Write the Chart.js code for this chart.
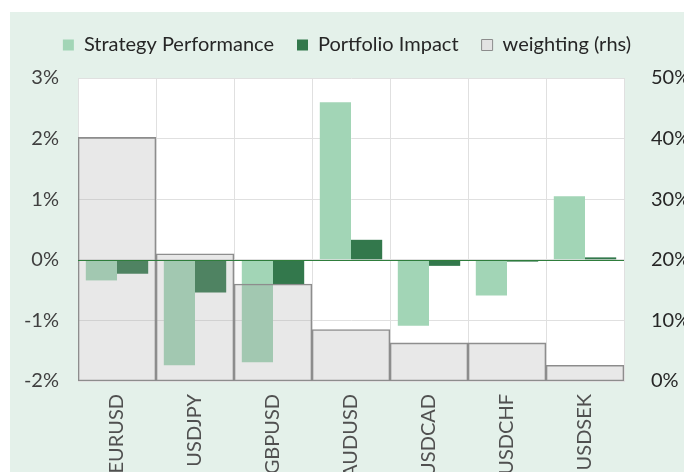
<!DOCTYPE html>
<html>
<head>
<meta charset="utf-8">
<script src="https://cdn.jsdelivr.net/npm/chart.js@4.4.1/dist/chart.umd.min.js"></script>
<style>
    body { margin: 0; background: #ffffff; overflow: hidden; }
    #wrap { position: absolute; left: 10px; top: 12px; width: 674px; height: 520px; background: #e4f1ea; }
</style>
</head>
<body>
<div id="wrap"><canvas id="myChart" width="674" height="520"></canvas></div>
<script>
// data
var pairs = ['EURUSD', 'USDJPY', 'GBPUSD', 'AUDUSD', 'USDCAD', 'USDCHF', 'USDSEK'];
var strategy = [-0.34, -1.74, -1.69, 2.60, -1.09, -0.59, 1.05];
var portfolio = [-0.23, -0.54, -0.40, 0.33, -0.10, -0.03, 0.04];
var weighting = [40.2, 21.0, 16.0, 8.5, 6.3, 6.3, 2.6];
var leftTicks = [-2, -1, 0, 1, 2, 3];
var rightTicks = [0, 10, 20, 30, 40, 50];

var tickFont = { family: 'Lato', size: 20 };

// witte plot achtergrond
var plotBg = {
    id: 'plotBg',
    beforeDraw: function (chart) {
        var a = chart.chartArea;
        chart.ctx.save();
        chart.ctx.fillStyle = '#ffffff';
        chart.ctx.fillRect(a.left, a.top, a.right - a.left, a.bottom - a.top);
        chart.ctx.restore();
    }
};

// groene nul lijn over alles heen
var zeroLine = {
    id: 'zeroLine',
    afterDatasetsDraw: function (chart) {
        var a = chart.chartArea;
        var y = Math.round(chart.scales.y.getPixelForValue(0)) + 0.5;
        var ctx = chart.ctx;
        ctx.save();
        ctx.strokeStyle = '#2f7d3c';
        ctx.lineWidth = 1;
        ctx.beginPath();
        ctx.moveTo(a.left, y);
        ctx.lineTo(a.right, y);
        ctx.stroke();
        ctx.restore();
    }
};

// legenda hoogte vast
var legendHeight = {
    id: 'legendHeight',
    beforeInit: function (chart) {
        var fit = chart.legend.fit;
        chart.legend.fit = function () {
            fit.call(this);
            this.height = 66;
        };
    }
};

var ctx = document.getElementById('myChart');
var myChart = new Chart(ctx, {
    type: 'bar',
    data: {
        labels: pairs,
        datasets: [{
            label: 'Strategy Performance',
            data: strategy,
            backgroundColor: '#a2d5b6',
            yAxisID: 'y',
            categoryPercentage: 0.8,
            barPercentage: 1
        }, {
            label: 'Portfolio Impact',
            data: portfolio,
            backgroundColor: '#33784c',
            yAxisID: 'y',
            categoryPercentage: 0.8,
            barPercentage: 1
        }, {
            label: 'weighting (rhs)',
            data: weighting,
            backgroundColor: 'rgba(164,164,164,0.25)',
            borderColor: '#8c8c8c',
            borderWidth: 1,
            borderSkipped: false,
            yAxisID: 'y1',
            grouped: false,
            categoryPercentage: 1,
            barPercentage: 1,
            order: -1
        }]
    },
    options: {
        responsive: false,
        animation: false,
        layout: { padding: 0 },
        plugins: {
            tooltip: { enabled: false },
            legend: {
                position: 'top',
                labels: {
                    font: { family: 'Lato', size: 20 },
                    color: '#262626',
                    boxWidth: 11,
                    boxHeight: 11,
                    padding: 23,
                    sort: function (a, b) { return a.datasetIndex - b.datasetIndex; },
                    generateLabels: function (chart) {
                        var items = Chart.defaults.plugins.legend.labels.generateLabels(chart);
                        items.forEach(function (it) {
                            if (it.datasetIndex === 2) {
                                it.fillStyle = '#e3e3e3';
                                it.strokeStyle = '#8c8c8c';
                                it.lineWidth = 1;
                            }
                        });
                        return items;
                    }
                }
            }
        },
        scales: {
            x: {
                grid: { color: '#e0e0e0', drawTicks: false },
                border: { color: '#e0e0e0' },
                ticks: {
                    font: tickFont,
                    color: '#505050',
                    minRotation: 90,
                    maxRotation: 90,
                    padding: 13,
                    autoSkip: false
                },
                afterFit: function (scale) { scale.height = 520 - 369; }
            },
            y: {
                position: 'left',
                min: leftTicks[0],
                max: leftTicks[leftTicks.length - 1],
                grid: { color: '#e0e0e0', drawTicks: false },
                border: { color: '#e0e0e0' },
                afterBuildTicks: function (scale) {
                    scale.ticks = leftTicks.map(function (v) { return { value: v }; });
                },
                ticks: {
                    font: tickFont,
                    color: '#404040',
                    padding: 19,
                    callback: function (v) { return v + '%'; }
                },
                afterFit: function (scale) { scale.width = 68; }
            },
            y1: {
                position: 'right',
                min: rightTicks[0],
                max: rightTicks[rightTicks.length - 1],
                grid: { display: false },
                border: { display: false },
                afterBuildTicks: function (scale) {
                    scale.ticks = rightTicks.map(function (v) { return { value: v }; });
                },
                ticks: {
                    font: tickFont,
                    color: '#262626',
                    padding: 19,
                    callback: function (v) { return v + '%'; }
                },
                afterFit: function (scale) { scale.width = 60; }
            }
        }
    },
    plugins: [plotBg, zeroLine, legendHeight]
});
</script>
</body>
</html>
